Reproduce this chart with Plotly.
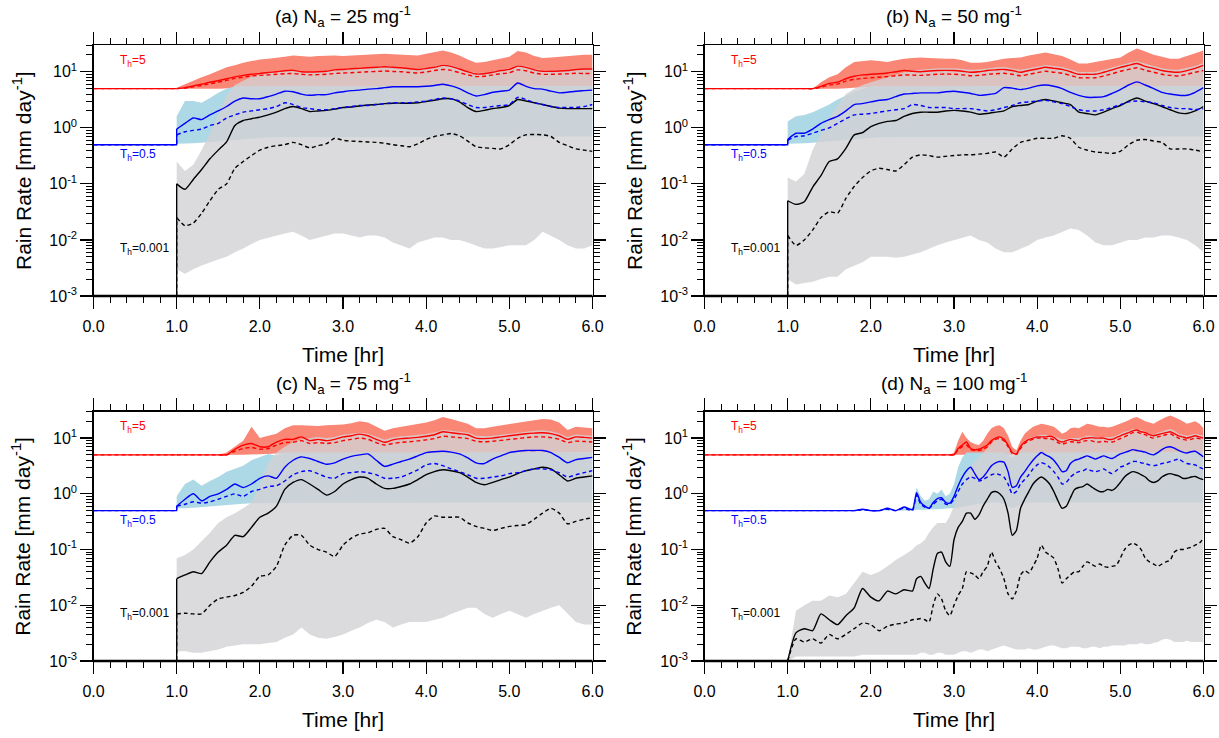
import math
import plotly.graph_objects as go

# ---------------- data ----------------
T_ABC = [1.0, 1.1, 1.2, 1.3, 1.4, 1.5, 1.6, 1.7, 1.8, 1.9,
         2.0, 2.1, 2.2, 2.3, 2.4, 2.5, 2.6, 2.7, 2.8, 2.9,
         3.0, 3.1, 3.2, 3.3, 3.4, 3.5, 3.6, 3.7, 3.8, 3.9,
         4.0, 4.1, 4.2, 4.3, 4.4, 4.5, 4.6, 4.7, 4.8, 4.9,
         5.0, 5.1, 5.2, 5.3, 5.4, 5.5, 5.6, 5.7, 5.8, 5.9,
         6.0]

THRESHOLDS = [5.0, 0.5, 0.001]
THRESHOLD_LABELS = ["T<sub>h</sub>=5", "T<sub>h</sub>=0.5", "T<sub>h</sub>=0.001"]
TITLES = ["(a) N<sub>a</sub> = 25 mg<sup>-1</sup>", "(b) N<sub>a</sub> = 50 mg<sup>-1</sup>",
          "(c) N<sub>a</sub> = 75 mg<sup>-1</sup>", "(d) N<sub>a</sub> = 100 mg<sup>-1</sup>"]
X_TICKS = [0, 1, 2, 3, 4, 5, 6]
X_TICK_TEXT = ["0.0", "1.0", "2.0", "3.0", "4.0", "5.0", "6.0"]
Y_TICKS = [0.001, 0.01, 0.1, 1, 10]
Y_TICK_TEXT = ["10<sup>-3</sup>", "10<sup>-2</sup>", "10<sup>-1</sup>", "10<sup>0</sup>", "10<sup>1</sup>"]

# ----- panel (a) -----
A_RED_MEAN = [5.0, 5.2, 5.6, 6.0, 6.5, 6.9, 7.5, 8.1, 8.6, 9.0,
              9.3, 9.7, 10.0, 10.4, 10.6, 10.0, 9.9, 10.0, 10.2, 10.8,
              11.0, 11.3, 11.5, 11.8, 12.0, 12.3, 12.0, 11.8, 11.3, 11.0,
              11.4, 12.0, 13.0, 12.5, 11.2, 10.0, 9.1, 9.2, 9.8, 10.5,
              11.0, 12.6, 12.0, 10.8, 10.2, 10.2, 10.3, 10.5, 11.0, 11.2,
              11.2]
A_RED_MED = [5.0, 5.1, 5.4, 5.7, 6.1, 6.5, 7.0, 7.6, 8.0, 8.4,
             8.6, 8.8, 9.0, 9.2, 9.3, 9.0, 8.8, 8.9, 9.0, 9.3,
             9.5, 9.6, 9.8, 10.0, 10.1, 10.3, 10.1, 10.0, 9.7, 9.5,
             9.9, 10.5, 11.0, 10.6, 9.6, 8.8, 8.2, 8.3, 8.8, 9.2,
             9.6, 10.8, 10.4, 9.5, 9.0, 9.0, 9.1, 9.2, 9.4, 9.3,
             9.3]
A_RED_HI = [5.2, 6.0, 7.0, 8.0, 9.0, 10.5, 12.0, 13.0, 14.5, 15.5,
            16.5, 17.0, 17.5, 18.5, 19.5, 19.0, 18.5, 19.0, 19.5, 19.5,
            19.0, 19.5, 20.0, 20.5, 21.0, 21.0, 20.5, 20.0, 19.5, 19.5,
            21.0, 22.5, 24.0, 22.0, 19.5, 16.5, 14.5, 15.0, 16.0, 17.0,
            18.5, 23.5, 22.0, 19.0, 17.5, 18.0, 18.5, 19.0, 19.5, 20.0,
            20.0]
A_RED_LO = [5.0, 5.0, 5.0, 5.0, 5.0, 5.0, 5.0, 5.1, 5.2, 5.3,
            5.4, 5.5, 5.5, 5.5, 5.5, 5.5, 5.5, 5.5, 5.5, 5.5,
            5.5, 5.5, 5.5, 5.5, 5.5, 5.5, 5.5, 5.5, 5.5, 5.5,
            5.5, 5.5, 5.5, 5.5, 5.5, 5.5, 5.5, 5.5, 5.5, 5.5,
            5.5, 5.5, 5.5, 5.5, 5.5, 5.5, 5.5, 5.5, 5.5, 5.5,
            5.5]
A_BLU_MEAN = [0.95, 1.2, 1.5, 1.4, 1.7, 2.0, 2.4, 3.0, 3.4, 3.3,
              3.3, 3.6, 4.0, 4.5, 4.4, 4.0, 3.8, 3.9, 3.9, 4.2,
              4.4, 4.6, 4.7, 4.9, 5.0, 5.2, 5.4, 5.4, 5.4, 5.4,
              5.5, 5.7, 6.0, 5.6, 5.0, 4.2, 3.7, 3.9, 4.3, 4.5,
              4.7, 6.3, 5.5, 5.0, 4.9, 4.5, 4.2, 4.3, 4.5, 4.6,
              4.7]
A_BLU_MED = [0.75, 0.85, 0.9, 0.95, 1.1, 1.2, 1.5, 1.7, 1.9, 2.0,
             2.1, 2.2, 2.4, 2.8, 2.6, 2.3, 2.2, 2.1, 2.1, 2.2,
             2.3, 2.4, 2.5, 2.5, 2.6, 2.7, 2.8, 2.8, 2.8, 2.9,
             3.0, 3.2, 3.4, 3.3, 3.0, 2.6, 2.3, 2.3, 2.4, 2.5,
             2.6, 3.5, 3.2, 2.8, 2.6, 2.4, 2.3, 2.3, 2.3, 2.4,
             2.6]
A_BLU_HI = [1.6, 3.0, 3.0, 2.8, 3.4, 4.2, 5.0, 5.5, 5.5, 5.5,
            5.5, 5.5, 5.5, 5.5, 5.5, 5.5, 5.5, 5.5, 5.5, 5.5,
            5.5, 5.5, 5.5, 5.5, 5.5, 5.5, 5.5, 5.5, 5.5, 5.5,
            5.5, 5.5, 5.5, 5.5, 5.5, 5.5, 5.5, 5.5, 5.5, 5.5,
            5.5, 5.5, 5.5, 5.5, 5.5, 5.5, 5.5, 5.5, 5.5, 5.5,
            5.5]
A_BLU_LO = [0.52, 0.52, 0.53, 0.54, 0.55, 0.56, 0.58, 0.6, 0.62, 0.64,
            0.66, 0.68, 0.7, 0.7, 0.7, 0.7, 0.7, 0.7, 0.7, 0.7,
            0.7, 0.7, 0.7, 0.7, 0.7, 0.7, 0.7, 0.7, 0.7, 0.7,
            0.7, 0.7, 0.7, 0.7, 0.7, 0.7, 0.7, 0.7, 0.7, 0.7,
            0.7, 0.7, 0.7, 0.7, 0.7, 0.7, 0.7, 0.7, 0.7, 0.7,
            0.7]
A_BLK_MEAN = [0.1, 0.08, 0.12, 0.18, 0.28, 0.4, 0.56, 1.1, 1.35, 1.45,
              1.55, 1.7, 1.9, 2.2, 2.4, 2.2, 1.95, 2.0, 2.05, 2.15,
              2.3, 2.35, 2.45, 2.55, 2.6, 2.7, 2.75, 2.75, 2.75, 2.8,
              2.95, 3.1, 3.3, 3.3, 2.9, 2.3, 1.95, 2.05, 2.2, 2.3,
              2.5, 3.2, 3.0, 2.8, 2.6, 2.4, 2.25, 2.2, 2.2, 2.2,
              2.2]
A_BLK_MED = [0.025, 0.018, 0.02, 0.03, 0.05, 0.08, 0.1, 0.19, 0.25, 0.32,
             0.4, 0.45, 0.48, 0.5, 0.55, 0.5, 0.44, 0.48, 0.52, 0.65,
             0.6, 0.58, 0.57, 0.56, 0.55, 0.53, 0.5, 0.48, 0.46, 0.52,
             0.62, 0.7, 0.75, 0.79, 0.72, 0.58, 0.46, 0.44, 0.43, 0.42,
             0.5, 0.65, 0.75, 0.76, 0.75, 0.7, 0.55, 0.48, 0.42, 0.4,
             0.38]
A_GRY_HI = [0.25, 0.17, 0.22, 0.4, 0.8, 1.8, 3.8, 5.8, 7.0, 8.2,
            9.0, 9.5, 10.0, 10.5, 10.5, 10.2, 10.0, 10.2, 10.5, 11.0,
            11.2, 11.5, 11.8, 12.0, 12.3, 12.5, 12.3, 12.0, 11.5, 11.3,
            11.8, 12.5, 13.5, 13.0, 11.5, 10.3, 9.5, 9.6, 10.2, 10.8,
            11.5, 13.2, 12.5, 11.2, 10.6, 10.6, 10.7, 10.9, 11.4, 11.6,
            11.6]
A_GRY_LO = [0.003, 0.0025, 0.003, 0.0035, 0.004, 0.0045, 0.005, 0.006, 0.007, 0.0085,
            0.01, 0.011, 0.012, 0.013, 0.014, 0.012, 0.01, 0.011, 0.012, 0.013,
            0.013, 0.012, 0.011, 0.012, 0.012, 0.011, 0.009, 0.008, 0.007, 0.009,
            0.01, 0.011, 0.011, 0.01, 0.01, 0.009, 0.008, 0.007, 0.007, 0.0075,
            0.008, 0.008, 0.008, 0.01, 0.014, 0.012, 0.01, 0.008, 0.007, 0.007,
            0.008]

# ----- panel (b) -----
B_RED_MEAN = [5.0, 5.0, 5.0, 5.0, 5.5, 6.2, 6.5, 7.5, 8.3, 8.8,
              9.0, 9.2, 9.5, 10.0, 10.5, 10.2, 10.0, 10.3, 10.5, 10.6,
              10.5, 10.2, 9.8, 10.0, 10.5, 10.8, 11.0, 10.5, 9.8, 10.5,
              11.2, 12.0, 11.5, 11.0, 10.0, 9.0, 9.0, 9.0, 9.8, 10.8,
              12.0, 13.0, 14.0, 12.5, 11.5, 10.5, 10.0, 9.8, 10.5, 11.5,
              13.0]
B_RED_MED = [5.0, 5.0, 5.0, 5.0, 5.3, 5.8, 6.0, 6.8, 7.3, 7.6,
             7.8, 8.0, 8.2, 8.5, 8.8, 8.7, 8.6, 8.8, 9.0, 9.1,
             9.0, 8.8, 8.5, 8.6, 9.0, 9.2, 9.4, 9.0, 8.5, 9.0,
             9.6, 10.2, 9.8, 9.4, 8.6, 7.8, 7.8, 7.8, 8.4, 9.2,
             10.2, 11.0, 11.8, 10.6, 9.8, 9.0, 8.6, 8.4, 9.0, 9.8,
             10.5]
B_RED_HI = [5.0, 5.0, 5.0, 5.0, 6.5, 8.0, 9.0, 12.0, 15.0, 15.5,
            16.0, 15.5, 15.0, 16.0, 17.0, 17.5, 18.0, 17.5, 17.0, 17.0,
            17.0, 16.0, 14.5, 14.5, 15.0, 16.0, 17.0, 17.5, 18.0, 19.5,
            21.0, 22.0, 20.5, 19.0, 16.5, 14.0, 14.0, 15.0, 16.0, 17.0,
            18.0, 22.0, 26.0, 23.0, 20.0, 18.5, 17.0, 17.0, 19.0, 21.5,
            24.0]
B_RED_LO = [5.0, 5.0, 5.0, 5.0, 5.0, 5.0, 5.0, 5.0, 5.2, 5.3,
            5.4, 5.5, 5.5, 5.5, 5.5, 5.5, 5.5, 5.5, 5.5, 5.5,
            5.5, 5.5, 5.5, 5.5, 5.5, 5.5, 5.5, 5.5, 5.5, 5.5,
            5.5, 5.5, 5.5, 5.5, 5.5, 5.5, 5.5, 5.5, 5.5, 5.5,
            5.5, 5.5, 5.5, 5.5, 5.5, 5.5, 5.5, 5.5, 5.5, 5.5,
            5.5]
B_BLU_MEAN = [0.62, 0.8, 0.8, 0.95, 1.2, 1.4, 1.6, 2.0, 2.6, 2.7,
              2.9, 3.1, 3.2, 3.6, 4.0, 4.1, 4.2, 4.2, 4.2, 4.4,
              4.5, 4.3, 4.1, 3.8, 3.9, 4.1, 5.2, 5.1, 4.8, 5.1,
              5.6, 5.8, 5.5, 5.0, 4.3, 3.8, 3.5, 3.5, 3.6, 4.1,
              4.8, 5.8, 6.6, 5.8, 5.0, 4.3, 4.0, 3.8, 3.8, 4.3,
              5.2]
B_BLU_MED = [0.6, 0.7, 0.72, 0.8, 0.9, 1.0, 1.2, 1.45, 1.7, 1.75,
             1.8, 1.9, 2.0, 2.1, 2.2, 2.6, 2.5, 2.3, 2.3, 2.3,
             2.2, 2.2, 2.2, 2.1, 2.0, 2.1, 2.3, 2.5, 2.8, 2.9,
             3.0, 3.1, 2.9, 2.7, 2.4, 2.1, 2.0, 2.0, 2.1, 2.3,
             2.6, 2.9, 3.0, 2.9, 2.8, 2.5, 2.3, 2.2, 2.2, 2.1,
             2.2]
B_BLU_HI = [1.3, 1.6, 1.7, 1.9, 2.2, 2.6, 3.2, 3.8, 4.4, 5.0,
            5.5, 5.5, 5.5, 5.5, 5.5, 5.5, 5.5, 5.5, 5.5, 5.5,
            5.5, 5.5, 5.5, 5.5, 5.5, 5.5, 5.5, 5.5, 5.5, 5.5,
            5.5, 5.5, 5.5, 5.5, 5.5, 5.5, 5.5, 5.5, 5.5, 5.5,
            5.5, 5.5, 5.5, 5.5, 5.5, 5.5, 5.5, 5.5, 5.5, 5.5,
            5.5]
B_BLU_LO = [0.52, 0.52, 0.53, 0.54, 0.55, 0.56, 0.58, 0.6, 0.62, 0.64,
            0.66, 0.68, 0.7, 0.7, 0.7, 0.7, 0.7, 0.7, 0.7, 0.7,
            0.7, 0.7, 0.7, 0.7, 0.7, 0.7, 0.7, 0.7, 0.7, 0.7,
            0.7, 0.7, 0.7, 0.7, 0.7, 0.7, 0.7, 0.7, 0.7, 0.7,
            0.7, 0.7, 0.7, 0.7, 0.7, 0.7, 0.7, 0.7, 0.7, 0.7,
            0.7]
B_BLK_MEAN = [0.05, 0.043, 0.048, 0.087, 0.14, 0.25, 0.28, 0.43, 0.75, 0.82,
              1.05, 1.2, 1.3, 1.35, 1.6, 1.8, 1.9, 1.9, 1.9, 2.0,
              2.05, 2.0, 1.9, 1.75, 1.8, 1.9, 2.0, 2.4, 2.5, 2.6,
              3.0, 3.2, 3.0, 2.8, 2.6, 1.9, 1.8, 1.7, 1.9, 2.2,
              2.5, 3.0, 3.4, 3.0, 2.7, 2.4, 2.1, 1.85, 1.8, 2.0,
              2.4]
B_BLK_MED = [0.012, 0.008, 0.01, 0.015, 0.025, 0.032, 0.03, 0.055, 0.09, 0.13,
             0.17, 0.19, 0.18, 0.17, 0.22, 0.3, 0.33, 0.32, 0.3, 0.31,
             0.32, 0.33, 0.33, 0.34, 0.35, 0.37, 0.3, 0.42, 0.55, 0.6,
             0.65, 0.65, 0.65, 0.72, 0.65, 0.45, 0.4, 0.37, 0.36, 0.35,
             0.38, 0.5, 0.6, 0.62, 0.58, 0.55, 0.42, 0.42, 0.42, 0.4,
             0.37]
B_GRY_HI = [0.13, 0.11, 0.15, 0.4, 0.8, 1.5, 2.5, 4.0, 5.0, 5.8,
            6.5, 7.2, 8.0, 9.0, 9.8, 10.5, 11.0, 11.2, 11.5, 11.7,
            11.6, 11.2, 10.8, 11.0, 11.5, 11.9, 12.1, 11.6, 10.8, 11.6,
            12.3, 13.2, 12.7, 12.1, 11.0, 9.9, 9.9, 9.9, 10.8, 11.9,
            13.2, 14.3, 15.4, 13.8, 12.7, 11.6, 11.0, 10.8, 11.6, 12.7,
            14.3]
B_GRY_LO = [0.002, 0.0016, 0.0017, 0.0018, 0.002, 0.0022, 0.0022, 0.003, 0.0035, 0.004,
            0.005, 0.005, 0.005, 0.0048, 0.005, 0.0055, 0.006, 0.007, 0.008, 0.009,
            0.01, 0.011, 0.012, 0.01, 0.009, 0.007, 0.006, 0.006, 0.007, 0.008,
            0.01, 0.011, 0.012, 0.014, 0.016, 0.015, 0.012, 0.009, 0.008, 0.008,
            0.009, 0.01, 0.01, 0.011, 0.011, 0.012, 0.012, 0.011, 0.01, 0.008,
            0.006]

# ----- panel (c) -----
C_RED_MEAN = [5.0, 5.0, 5.0, 5.0, 5.0, 5.0, 5.0, 6.3, 7.5, 8.0,
              7.0, 7.0, 8.5, 9.5, 9.5, 10.5, 9.0, 9.5, 9.0, 9.5,
              10.5, 11.0, 11.8, 11.0, 9.5, 8.4, 9.3, 9.8, 10.0, 10.3,
              10.8, 11.5, 13.0, 12.5, 12.0, 11.5, 10.0, 9.8, 10.0, 10.5,
              11.0, 11.5, 12.0, 12.3, 12.5, 12.0, 11.0, 9.5, 10.5, 10.3,
              10.0]
C_RED_MED = [5.0, 5.0, 5.0, 5.0, 5.0, 5.0, 5.0, 5.8, 6.5, 6.8,
             6.3, 6.5, 7.5, 8.3, 8.4, 9.0, 8.0, 8.3, 8.0, 8.3,
             9.0, 9.5, 10.0, 9.5, 8.3, 7.5, 8.0, 8.4, 8.6, 8.9,
             9.3, 9.8, 10.8, 10.5, 10.2, 9.8, 8.8, 8.6, 8.8, 9.1,
             9.5, 9.8, 10.2, 10.5, 10.5, 10.2, 9.5, 8.3, 8.8, 8.7,
             8.5]
C_RED_HI = [5.0, 5.0, 5.0, 5.0, 5.0, 5.0, 5.5, 7.0, 9.0, 16.0,
            10.0, 11.0, 12.0, 15.0, 17.0, 17.0, 16.5, 16.5, 17.0, 17.0,
            17.5, 18.5, 20.0, 19.0, 16.0, 13.5, 15.0, 16.0, 17.0, 18.0,
            19.0, 21.0, 24.0, 22.0, 20.0, 18.0, 15.0, 15.0, 16.0, 17.0,
            18.0, 19.0, 20.0, 21.0, 22.0, 21.5, 19.0, 14.0, 16.0, 15.5,
            15.0]
C_RED_LO = [5.0, 5.0, 5.0, 5.0, 5.0, 5.0, 5.0, 5.0, 5.0, 5.0,
            5.1, 5.2, 5.3, 5.4, 5.5, 5.5, 5.5, 5.5, 5.5, 5.5,
            5.5, 5.5, 5.5, 5.5, 5.5, 5.5, 5.5, 5.5, 5.5, 5.5,
            5.5, 5.5, 5.5, 5.5, 5.5, 5.5, 5.5, 5.5, 5.5, 5.5,
            5.5, 5.5, 5.5, 5.5, 5.5, 5.5, 5.5, 5.5, 5.5, 5.5,
            5.5]
C_BLU_MEAN = [0.6, 0.8, 1.0, 0.75, 0.9, 1.0, 1.2, 1.5, 1.3, 1.5,
              1.9, 2.1, 1.9, 3.0, 4.0, 4.6, 4.3, 3.8, 3.4, 3.6,
              4.2, 4.7, 5.0, 5.2, 4.0, 3.1, 3.4, 3.8, 4.2, 4.8,
              5.5, 5.7, 5.8, 5.6, 5.2, 4.4, 3.6, 3.5, 4.2, 4.8,
              5.5, 5.8, 6.0, 6.0, 6.0, 5.5, 4.5, 3.6, 4.1, 4.3,
              4.5]
C_BLU_MED = [0.6, 0.65, 0.72, 0.68, 0.72, 0.8, 0.9, 1.0, 0.9, 1.1,
             1.2, 1.35, 1.4, 1.7, 2.2, 2.5, 2.6, 2.3, 2.0, 1.9,
             2.3, 2.4, 2.5, 2.4, 2.2, 1.9, 1.9, 2.0, 2.3, 2.7,
             3.3, 3.5, 3.2, 2.8, 2.5, 2.2, 1.9, 1.9, 2.0, 2.1,
             2.3, 2.4, 2.6, 2.8, 2.8, 2.7, 2.4, 2.0, 2.2, 2.4,
             2.6]
C_BLU_HI = [0.9, 1.5, 1.8, 1.4, 1.7, 2.0, 2.5, 2.8, 3.2, 4.0,
            4.5, 5.2, 4.8, 5.5, 5.5, 5.5, 5.5, 5.5, 5.5, 5.5,
            5.5, 5.5, 5.5, 5.5, 5.5, 5.5, 5.5, 5.5, 5.5, 5.5,
            5.5, 5.5, 5.5, 5.5, 5.5, 5.5, 5.5, 5.5, 5.5, 5.5,
            5.5, 5.5, 5.5, 5.5, 5.5, 5.5, 5.5, 5.5, 5.5, 5.5,
            5.5]
C_BLU_LO = [0.55, 0.55, 0.56, 0.57, 0.58, 0.6, 0.62, 0.64, 0.66, 0.68,
            0.7, 0.7, 0.7, 0.7, 0.7, 0.7, 0.7, 0.7, 0.7, 0.7,
            0.7, 0.7, 0.7, 0.7, 0.7, 0.7, 0.7, 0.7, 0.7, 0.7,
            0.7, 0.7, 0.7, 0.7, 0.7, 0.7, 0.7, 0.7, 0.7, 0.7,
            0.7, 0.7, 0.7, 0.7, 0.7, 0.7, 0.7, 0.7, 0.7, 0.7,
            0.7]
C_BLK_MEAN = [0.03, 0.035, 0.04, 0.037, 0.06, 0.09, 0.12, 0.18, 0.17, 0.25,
              0.38, 0.45, 0.6, 1.2, 1.6, 1.8, 1.5, 1.2, 0.95, 1.1,
              1.5, 1.8, 2.0, 1.9, 1.5, 1.25, 1.25, 1.35, 1.5, 1.8,
              2.2, 2.5, 2.7, 2.6, 2.4, 2.0, 1.6, 1.45, 1.6, 1.8,
              2.0, 2.3, 2.6, 2.8, 3.0, 2.8, 2.2, 1.7, 1.9, 2.0,
              2.1]
C_BLK_MED = [0.007, 0.0072, 0.007, 0.007, 0.01, 0.013, 0.014, 0.015, 0.017, 0.022,
             0.033, 0.035, 0.05, 0.12, 0.18, 0.18, 0.12, 0.1, 0.09, 0.075,
             0.12, 0.16, 0.19, 0.2, 0.23, 0.24, 0.17, 0.15, 0.13, 0.17,
             0.3, 0.4, 0.38, 0.38, 0.38, 0.3, 0.26, 0.24, 0.22, 0.24,
             0.26, 0.27, 0.28, 0.35, 0.45, 0.55, 0.45, 0.29, 0.32, 0.35,
             0.37]
C_GRY_HI = [0.07, 0.08, 0.1, 0.14, 0.2, 0.3, 0.38, 0.45, 0.55, 0.7,
            1.5, 3.5, 5.5, 7.0, 8.5, 9.5, 10.0, 10.5, 10.0, 10.5,
            11.5, 12.0, 12.5, 12.0, 10.5, 9.3, 10.2, 10.8, 11.0, 11.3,
            11.9, 12.6, 14.0, 13.5, 13.0, 12.5, 11.0, 10.8, 11.0, 11.5,
            12.1, 12.6, 13.2, 13.5, 13.8, 13.2, 12.1, 10.5, 11.6, 11.3,
            11.0]
C_GRY_LO = [0.0015, 0.0015, 0.0014, 0.0014, 0.0015, 0.0016, 0.0018, 0.0019, 0.002, 0.002,
            0.002, 0.0021, 0.0022, 0.0026, 0.003, 0.004, 0.003, 0.0026, 0.0025, 0.0027,
            0.003, 0.0035, 0.004, 0.0048, 0.0055, 0.005, 0.004, 0.0045, 0.005, 0.005,
            0.005, 0.0055, 0.006, 0.007, 0.008, 0.009, 0.009, 0.007, 0.006, 0.007,
            0.008, 0.007, 0.006, 0.007, 0.008, 0.009, 0.01, 0.007, 0.005, 0.0045,
            0.0045]

# ----- panel (d) -----
T_D = [1.0, 1.1, 1.2, 1.3, 1.4, 1.5, 1.6, 1.7, 1.8, 1.9, 2.0, 2.1, 2.2, 2.3, 2.4,
       2.5, 2.55, 2.6, 2.65, 2.7, 2.75, 2.8, 2.85, 2.9, 2.95,
       3.0, 3.05, 3.1, 3.15, 3.2, 3.25, 3.3, 3.35, 3.4, 3.45,
       3.5, 3.55, 3.6, 3.65, 3.7, 3.75, 3.8, 3.85, 3.9, 3.95,
       4.0, 4.05, 4.1, 4.15, 4.2, 4.25, 4.3, 4.35, 4.4, 4.45,
       4.5, 4.55, 4.6, 4.65, 4.7, 4.75, 4.8, 4.85, 4.9, 4.95,
       5.0, 5.05, 5.1, 5.15, 5.2, 5.25, 5.3, 5.35, 5.4, 5.45,
       5.5, 5.55, 5.6, 5.65, 5.7, 5.75, 5.8, 5.85, 5.9, 5.95, 6.0]
D_RED_MEAN = [5.0, 5.0, 5.0, 5.0, 5.0, 5.0, 5.0, 5.0, 5.0, 5.0, 5.0, 5.0, 5.0, 5.0, 5.0,
              5.0, 5.0, 5.0, 5.0, 5.0, 5.0, 5.0, 5.0, 5.0, 5.0,
              5.0, 6.5, 7.5, 8.5, 6.5, 6.2, 6.3, 6.8, 7.5, 9.0,
              10.0, 10.5, 9.5, 7.5, 5.5, 5.2, 7.0, 8.5, 9.5, 10.0,
              10.5, 10.5, 10.5, 10.8, 10.3, 9.0, 8.5, 9.0, 9.5, 9.2,
              9.0, 9.8, 10.0, 10.2, 10.0, 10.0, 10.0, 9.5, 9.5, 10.2,
              11.0, 11.8, 12.5, 13.5, 14.0, 13.0, 12.5, 11.5, 11.0, 11.5,
              12.0, 12.5, 13.0, 12.0, 11.0, 10.5, 10.0, 10.5, 11.0, 10.5, 10.0]
D_RED_MED = [5.0, 5.0, 5.0, 5.0, 5.0, 5.0, 5.0, 5.0, 5.0, 5.0, 5.0, 5.0, 5.0, 5.0, 5.0,
             5.0, 5.0, 5.0, 5.0, 5.0, 5.0, 5.0, 5.0, 5.0, 5.0,
             5.0, 6.2, 7.0, 7.5, 6.2, 6.0, 6.0, 6.3, 7.0, 8.5,
             9.5, 9.8, 9.0, 7.0, 5.3, 5.1, 6.5, 8.0, 9.0, 9.5,
             10.0, 10.0, 9.8, 9.8, 9.3, 8.3, 7.8, 8.2, 8.6, 8.5,
             8.3, 8.8, 9.0, 9.0, 8.5, 8.5, 8.8, 8.5, 8.5, 9.0,
             9.8, 10.5, 11.5, 12.5, 12.8, 12.0, 11.5, 10.5, 10.0, 10.5,
             11.0, 11.5, 12.0, 11.0, 10.0, 9.5, 9.2, 9.5, 10.0, 9.8, 9.5]
D_RED_HI = [5.0, 5.0, 5.0, 5.0, 5.0, 5.0, 5.0, 5.0, 5.0, 5.0, 5.0, 5.0, 5.0, 5.0, 5.0,
            5.0, 5.0, 5.0, 5.0, 5.0, 5.0, 5.0, 5.0, 5.0, 5.0,
            5.5, 9.0, 13.0, 10.0, 8.5, 7.8, 7.5, 9.0, 12.0, 15.0,
            16.5, 17.0, 15.0, 11.0, 7.0, 6.0, 9.0, 12.0, 14.0, 16.0,
            17.0, 18.0, 17.5, 17.0, 16.0, 14.0, 12.0, 13.0, 15.0, 15.5,
            15.0, 16.5, 18.0, 17.5, 16.5, 16.0, 16.0, 15.5, 16.0, 17.0,
            18.0, 19.5, 21.0, 23.0, 24.0, 22.0, 20.0, 19.0, 18.0, 20.0,
            22.0, 24.0, 25.5, 24.0, 22.0, 20.0, 18.0, 19.0, 20.0, 18.0, 15.0]
D_RED_LO = [5.0, 5.0, 5.0, 5.0, 5.0, 5.0, 5.0, 5.0, 5.0, 5.0, 5.0, 5.0, 5.0, 5.0, 5.0,
            5.0, 5.0, 5.0, 5.0, 5.0, 5.0, 5.0, 5.0, 5.0, 5.0,
            5.0, 5.0, 5.0, 5.0, 5.0, 5.0, 5.0, 5.0, 5.0, 5.0,
            5.0, 5.0, 5.0, 5.0, 5.0, 5.0, 5.0, 5.0, 5.0, 5.0,
            5.2, 5.3, 5.4, 5.5, 5.5, 5.5, 5.5, 5.5, 5.5, 5.5,
            5.5, 5.5, 5.5, 5.5, 5.5, 5.5, 5.5, 5.5, 5.5, 5.5,
            5.5, 5.5, 5.5, 5.5, 5.5, 5.5, 5.5, 5.5, 5.5, 5.5,
            5.5, 5.5, 5.5, 5.5, 5.5, 5.5, 5.5, 5.5, 5.5, 5.5, 5.5]
D_BLU_MEAN = [0.5, 0.5, 0.5, 0.5, 0.5, 0.5, 0.5, 0.5, 0.5, 0.53, 0.5, 0.5, 0.55, 0.5, 0.58,
              0.52, 1.05, 0.7, 0.6, 0.55, 0.7, 0.82, 0.85, 0.7, 0.68,
              0.9, 1.4, 2.0, 2.6, 3.0, 2.3, 1.8, 2.0, 2.5, 3.2,
              3.6, 3.8, 3.7, 2.5, 1.3, 1.4, 2.0, 2.5, 3.2, 4.0,
              4.8, 5.5, 5.0, 4.6, 4.0, 3.2, 2.5, 2.6, 3.5, 4.0,
              4.2, 4.5, 4.8, 4.5, 4.2, 4.5, 4.8, 4.5, 4.3, 4.7,
              5.2, 5.5, 5.8, 6.2, 6.0, 5.8, 5.6, 5.2, 5.0, 5.5,
              6.2, 6.8, 7.0, 6.6, 6.0, 5.6, 5.4, 5.7, 5.8, 5.2, 4.6]
D_BLU_MED = [0.5, 0.5, 0.5, 0.5, 0.5, 0.5, 0.5, 0.5, 0.5, 0.52, 0.5, 0.5, 0.53, 0.5, 0.55,
             0.5, 0.95, 0.65, 0.58, 0.55, 0.65, 0.75, 0.8, 0.65, 0.65,
             0.8, 1.1, 1.5, 1.8, 2.0, 1.9, 1.7, 1.8, 2.0, 2.2,
             2.3, 2.2, 2.0, 1.5, 1.0, 1.1, 1.5, 1.8, 2.2, 2.8,
             3.3, 3.6, 3.4, 3.0, 2.5, 2.0, 1.5, 1.6, 2.0, 2.3,
             2.5, 2.6, 2.8, 2.6, 2.5, 2.6, 2.8, 2.5, 2.3, 2.6,
             3.0, 3.2, 3.5, 3.8, 3.8, 3.6, 3.5, 3.3, 3.2, 3.3,
             3.5, 3.6, 3.8, 4.0, 4.2, 3.8, 3.5, 3.4, 3.3, 3.0, 2.8]
D_BLU_HI = [0.5, 0.5, 0.5, 0.5, 0.5, 0.5, 0.5, 0.5, 0.5, 0.54, 0.5, 0.5, 0.57, 0.5, 0.6,
            0.55, 1.3, 0.9, 0.75, 0.8, 1.1, 1.0, 1.2, 0.9, 1.0,
            1.5, 3.0, 4.5, 5.5, 5.5, 5.5, 5.5, 5.5, 5.5, 5.5,
            5.5, 5.5, 5.5, 5.0, 4.5, 4.8, 5.5, 5.5, 5.5, 5.5,
            5.5, 5.5, 5.5, 5.5, 5.5, 5.5, 5.5, 5.5, 5.5, 5.5,
            5.5, 5.5, 5.5, 5.5, 5.5, 5.5, 5.5, 5.5, 5.5, 5.5,
            5.5, 5.5, 5.5, 5.5, 5.5, 5.5, 5.5, 5.5, 5.5, 5.5,
            5.5, 5.5, 5.5, 5.5, 5.5, 5.5, 5.5, 5.5, 5.5, 5.5, 5.5]
D_BLU_LO = [0.5, 0.5, 0.5, 0.5, 0.5, 0.5, 0.5, 0.5, 0.5, 0.5, 0.5, 0.5, 0.5, 0.5, 0.5,
            0.5, 0.52, 0.52, 0.52, 0.52, 0.53, 0.53, 0.54, 0.54, 0.55,
            0.55, 0.56, 0.58, 0.6, 0.62, 0.64, 0.66, 0.68, 0.7, 0.7,
            0.7, 0.7, 0.65, 0.6, 0.55, 0.58, 0.65, 0.7, 0.7, 0.7,
            0.7, 0.7, 0.7, 0.7, 0.7, 0.7, 0.7, 0.7, 0.7, 0.7,
            0.7, 0.7, 0.7, 0.7, 0.7, 0.7, 0.7, 0.7, 0.7, 0.7,
            0.7, 0.7, 0.7, 0.7, 0.7, 0.7, 0.7, 0.7, 0.7, 0.7,
            0.7, 0.7, 0.7, 0.7, 0.7, 0.7, 0.7, 0.7, 0.7, 0.7, 0.7]
D_BLK_MEAN = [0.001, 0.0032, 0.0038, 0.0035, 0.007, 0.0055, 0.0045, 0.0065, 0.009, 0.02, 0.014, 0.012, 0.018, 0.016, 0.019,
              0.018, 0.03, 0.033, 0.025, 0.02, 0.045, 0.085, 0.09, 0.06, 0.05,
              0.15, 0.25, 0.32, 0.45, 0.45, 0.35, 0.42, 0.6, 0.8, 1.05,
              1.1, 1.0, 0.8, 0.45, 0.18, 0.22, 0.55, 0.8, 1.1, 1.5,
              1.8, 2.0, 1.8, 1.5, 1.1, 0.75, 0.55, 0.6, 0.85, 1.2,
              1.3, 1.35, 1.5, 1.35, 1.2, 1.1, 1.1, 1.2, 1.15, 1.3,
              1.6, 2.0, 2.3, 2.5, 2.4, 2.2, 2.0, 1.7, 1.6, 1.7,
              2.0, 2.2, 2.3, 2.2, 2.1, 1.9, 1.9, 2.0, 2.05, 1.9, 1.8]
D_BLK_MED = [0.001, 0.0025, 0.0022, 0.0025, 0.0021, 0.003, 0.0025, 0.003, 0.0038, 0.0048, 0.0045, 0.0035, 0.0042, 0.0046, 0.0048,
             0.0055, 0.0056, 0.0058, 0.0055, 0.005, 0.01, 0.016, 0.013, 0.008, 0.0065,
             0.01, 0.015, 0.02, 0.04, 0.038, 0.035, 0.03, 0.04, 0.05, 0.09,
             0.06, 0.045, 0.03, 0.016, 0.013, 0.018, 0.035, 0.042, 0.038, 0.05,
             0.07, 0.12, 0.09, 0.08, 0.07, 0.045, 0.025, 0.03, 0.035, 0.04,
             0.04, 0.05, 0.06, 0.055, 0.05, 0.055, 0.05, 0.048, 0.05, 0.052,
             0.07, 0.1, 0.12, 0.13, 0.12, 0.1, 0.07, 0.06, 0.055, 0.05,
             0.055, 0.06, 0.065, 0.09, 0.1, 0.1, 0.105, 0.11, 0.12, 0.13, 0.16]
D_GRY_HI = [0.001, 0.008, 0.01, 0.012, 0.012, 0.015, 0.014, 0.016, 0.025, 0.04, 0.035, 0.04, 0.05, 0.065, 0.08,
            0.1, 0.12, 0.13, 0.15, 0.2, 0.25, 0.3, 0.3, 0.3, 0.4,
            0.6, 1.0, 1.5, 2.2, 3.0, 3.8, 4.5, 5.5, 6.5, 8.0,
            9.5, 10.5, 9.0, 7.0, 5.5, 5.5, 7.0, 9.0, 10.0, 10.5,
            11.0, 11.5, 11.5, 11.0, 11.0, 10.0, 9.5, 9.5, 10.0, 10.0,
            10.0, 10.5, 11.0, 11.0, 10.5, 10.5, 10.5, 10.5, 10.5, 11.0,
            12.0, 13.0, 13.5, 14.5, 14.5, 14.0, 13.0, 12.0, 11.5, 12.5,
            13.0, 14.0, 14.5, 13.5, 12.0, 11.5, 11.0, 11.5, 12.0, 11.5, 11.0]
D_GRY_LO = [0.001, 0.0012, 0.0012, 0.0012, 0.0012, 0.0012, 0.0012, 0.0012, 0.0012, 0.0013, 0.0013, 0.0013, 0.0013, 0.0013, 0.0013,
            0.0013, 0.0013, 0.0014, 0.0014, 0.0013, 0.0013, 0.0014, 0.0014, 0.0013, 0.0013,
            0.0013, 0.0014, 0.0015, 0.0015, 0.0014, 0.0015, 0.0016, 0.0016, 0.0015, 0.0016,
            0.0017, 0.0018, 0.0019, 0.0018, 0.0017, 0.0016, 0.0016, 0.0016, 0.0017, 0.0016,
            0.0016, 0.0017, 0.0018, 0.0019, 0.0019, 0.0018, 0.0017, 0.0017, 0.0018, 0.0018,
            0.0018, 0.0017, 0.0017, 0.0018, 0.0018, 0.0017, 0.0018, 0.0018, 0.0019, 0.0019,
            0.0019, 0.0019, 0.002, 0.002, 0.002, 0.0021, 0.002, 0.002, 0.0021, 0.0022,
            0.0024, 0.0025, 0.0024, 0.0022, 0.0022, 0.0022, 0.0023, 0.0022, 0.0022, 0.0022, 0.0022]

# ---------------- styling ----------------
FONT = "Liberation Sans, Arial, Helvetica, sans-serif"
W, H = 1219, 738
LINE_COLORS = ["#ff0000", "#0000ff", "#000000"]
BAND_COLORS = ["rgb(250,135,118)", "rgb(173,216,230)", "rgba(210,210,212,0.8)"]
LABEL_COLORS = ["#ff0000", "#0000ff", "#000000"]

# plot areas in page pixels: (left, right, top, bottom)
BOXES = [(93.5, 592.5, 45, 296), (704.5, 1203.5, 45, 296),
         (93.5, 592.5, 411.5, 661), (704.5, 1203.5, 411.5, 661)]


def px(x):
    return x / W


def py(y):
    return 1 - y / H


PANELS = [
    (T_ABC, [(A_RED_MEAN, A_RED_MED, A_RED_LO, A_RED_HI),
             (A_BLU_MEAN, A_BLU_MED, A_BLU_LO, A_BLU_HI),
             (A_BLK_MEAN, A_BLK_MED, A_GRY_LO, A_GRY_HI)]),
    (T_ABC, [(B_RED_MEAN, B_RED_MED, B_RED_LO, B_RED_HI),
             (B_BLU_MEAN, B_BLU_MED, B_BLU_LO, B_BLU_HI),
             (B_BLK_MEAN, B_BLK_MED, B_GRY_LO, B_GRY_HI)]),
    (T_ABC, [(C_RED_MEAN, C_RED_MED, C_RED_LO, C_RED_HI),
             (C_BLU_MEAN, C_BLU_MED, C_BLU_LO, C_BLU_HI),
             (C_BLK_MEAN, C_BLK_MED, C_GRY_LO, C_GRY_HI)]),
    (T_D, [(D_RED_MEAN, D_RED_MED, D_RED_LO, D_RED_HI),
           (D_BLU_MEAN, D_BLU_MED, D_BLU_LO, D_BLU_HI),
           (D_BLK_MEAN, D_BLK_MED, D_GRY_LO, D_GRY_HI)]),
]

Y_TOP = 30.0
X_MINOR = [i / 5 for i in range(31) if i % 5 != 0]
Y_MINOR = [k * 10.0 ** e for e in range(-3, 2) for k in range(2, 10) if k * 10.0 ** e <= Y_TOP]

fig = go.Figure()

for p, (t, series) in enumerate(PANELS):
    xa = "x" if p == 0 else "x%d" % (p + 1)
    ya = "y" if p == 0 else "y%d" % (p + 1)
    # bands: red, blue, then grey on top
    for s, (mean, med, lo, hi) in enumerate(series):
        fig.add_trace(go.Scatter(
            x=list(t) + list(t)[::-1], y=list(hi) + list(lo)[::-1],
            fill="toself", fillcolor=BAND_COLORS[s], line=dict(width=0),
            mode="lines", hoverinfo="skip", showlegend=False, xaxis=xa, yaxis=ya))
    # lines: black first, red last
    for s in [2, 1, 0]:
        mean, med, lo, hi = series[s]
        th = THRESHOLDS[s]
        for vals, dash in [(med, "4px,3px"), (mean, "solid")]:
            fig.add_trace(go.Scatter(
                x=[0.0, t[0], t[0]], y=[th, th, vals[0]], mode="lines",
                line=dict(color=LINE_COLORS[s], width=1.4, dash=dash),
                hoverinfo="skip", showlegend=False, xaxis=xa, yaxis=ya))
            fig.add_trace(go.Scatter(
                x=t, y=vals, mode="lines",
                line=dict(color=LINE_COLORS[s], width=1.4, dash=dash, shape="spline", smoothing=0.6),
                hoverinfo="skip", showlegend=False, xaxis=xa, yaxis=ya))

layout = dict(width=W, height=H, margin=dict(l=0, r=0, t=0, b=0, pad=0, autoexpand=False),
              paper_bgcolor="white", plot_bgcolor="white", showlegend=False,
              font=dict(family=FONT, color="black"))
annotations = []
shapes = []
for p, (l, r, tp, bt) in enumerate(BOXES):
    xk = "xaxis" if p == 0 else "xaxis%d" % (p + 1)
    yk = "yaxis" if p == 0 else "yaxis%d" % (p + 1)
    xa = "x" if p == 0 else "x%d" % (p + 1)
    ya = "y" if p == 0 else "y%d" % (p + 1)
    layout[xk] = dict(domain=[px(l), px(r)], anchor=ya, range=[0, 6], automargin=False,
                      tickmode="array", tickvals=X_TICKS, ticktext=X_TICK_TEXT,
                      ticks="outside", ticklen=12, tickwidth=1.2, tickcolor="black",
                      minor=dict(tickvals=X_MINOR, ticks="outside", ticklen=6, tickwidth=1, tickcolor="black", showgrid=False),
                      showline=True, linecolor="black", linewidth=1.2, mirror="allticks",
                      showgrid=False, zeroline=False, ticklabelstandoff=4, ticklabeloverflow="allow",
                      tickfont=dict(size=16, family=FONT, color="black"))
    layout[yk] = dict(domain=[py(bt), py(tp)], anchor=xa, type="log", automargin=False,
                      range=[-3, math.log10(Y_TOP)],
                      tickmode="array", tickvals=Y_TICKS, ticktext=Y_TICK_TEXT,
                      ticks="outside", ticklen=12, tickwidth=1.2, tickcolor="black",
                      minor=dict(tickvals=Y_MINOR, ticks="outside", ticklen=6, tickwidth=1, tickcolor="black", showgrid=False),
                      showline=True, linecolor="black", linewidth=1.2, mirror="allticks",
                      showgrid=False, zeroline=False, ticklabeloverflow="allow",
                      tickfont=dict(size=16, family=FONT, color="black"))
    # heavier bottom frame line, as in the original
    shapes.append(dict(type="line", xref="%s domain" % xa, yref="%s domain" % ya,
                       x0=0, x1=1, y0=0, y1=0, line=dict(color="black", width=2.4)))
    cx = px((l + r) / 2)
    # panel title
    annotations.append(dict(text=TITLES[p], x=cx, y=py(tp - 28), xref="paper", yref="paper",
                            showarrow=False, xanchor="center", yanchor="middle",
                            font=dict(size=19, family=FONT, color="black")))
    # axis titles
    annotations.append(dict(text="Time [hr]", x=cx, y=py(bt + 58), xref="paper", yref="paper",
                            showarrow=False, xanchor="center", yanchor="middle",
                            font=dict(size=21, family=FONT, color="black")))
    annotations.append(dict(text="Rain Rate [mm day<sup>-1</sup>]", x=px(l - 72), y=py((tp + bt) / 2),
                            xref="paper", yref="paper", textangle=-90,
                            showarrow=False, xanchor="center", yanchor="middle",
                            font=dict(size=21, family=FONT, color="black")))
    # threshold labels
    for s, ly in enumerate([1.2, -0.48, -2.16]):
        annotations.append(dict(text=THRESHOLD_LABELS[s], x=0.29, y=ly, xref=xa, yref=ya,
                                showarrow=False, xanchor="left", yanchor="middle",
                                font=dict(size=12, family=FONT, color=LABEL_COLORS[s])))
layout["annotations"] = annotations
layout["shapes"] = shapes
fig.update_layout(**layout)
# remove the page's default 8px body margin so the figure fills the window exactly
fig.write_html("out.html", config={"displayModeBar": False, "staticPlot": True},
               post_script="document.body.style.margin='0px';")
